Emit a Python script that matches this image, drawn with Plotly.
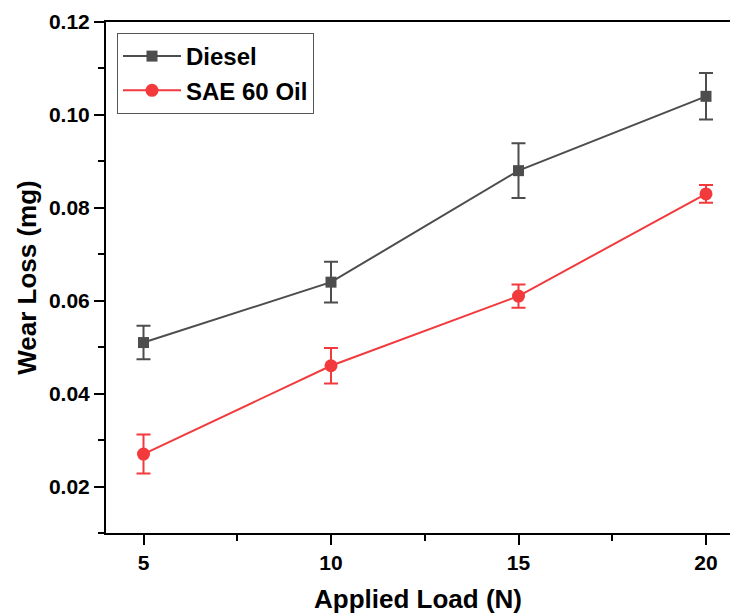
import plotly.graph_objects as go

load = [5, 10, 15, 20]
diesel = [0.051, 0.064, 0.088, 0.104]
diesel_err = [0.0036, 0.0044, 0.0059, 0.0050]
sae = [0.027, 0.046, 0.061, 0.083]
sae_err = [0.0042, 0.0038, 0.0025, 0.0019]

FONT = "Liberation Sans, Arial, sans-serif"
GRAY = "#4d4d4d"
RED = "#f23a3d"

fig = go.Figure()
fig.add_trace(go.Scatter(
    x=load, y=diesel, name="Diesel", mode="lines+markers",
    line=dict(color=GRAY, width=2),
    marker=dict(symbol="square", size=11, color=GRAY),
    error_y=dict(type="data", array=diesel_err, visible=True, color=GRAY, thickness=2, width=7),
))
fig.add_trace(go.Scatter(
    x=load, y=sae, name="SAE 60 Oil", mode="lines+markers",
    line=dict(color=RED, width=2),
    marker=dict(symbol="circle", size=13, color=RED),
    error_y=dict(type="data", array=sae_err, visible=True, color=RED, thickness=2, width=7),
))

fig.update_layout(
    width=730, height=616,
    margin=dict(l=106, r=0, t=22, b=83),
    paper_bgcolor="white", plot_bgcolor="white",
    font=dict(family=FONT, color="black"),
    showlegend=True,
    legend=dict(
        x=(117 - 106) / 624, y=1 - (33 - 22) / 511, xanchor="left", yanchor="top",
        bordercolor="#555555", borderwidth=1, bgcolor="white",
        font=dict(family=FONT, size=24, weight="bold", color="black"),
        traceorder="normal", itemwidth=58,
    ),
    xaxis=dict(
        range=[4, 4 + 624 / 37.5], tickmode="linear", tick0=0, dtick=5,
        showgrid=False, zeroline=False,
        showline=True, linecolor="black", linewidth=2, mirror=True,
        ticks="outside", ticklen=10, tickwidth=2, tickcolor="black",
        minor=dict(ticks="outside", ticklen=6, tickwidth=2, tickcolor="black", dtick=2.5, tick0=0),
        tickfont=dict(family=FONT, size=21, weight="bold", color="black"),
        title=dict(text="Applied Load (N)", font=dict(family=FONT, size=26, weight="bold", color="black"), standoff=17),
    ),
    yaxis=dict(
        range=[0.01, 0.12], tickmode="linear", tick0=0, dtick=0.02, tickformat=".2f",
        showgrid=False, zeroline=False,
        showline=True, linecolor="black", linewidth=2, mirror=False,
        ticks="outside", ticklen=10, tickwidth=2, tickcolor="black",
        minor=dict(ticks="outside", ticklen=6, tickwidth=2, tickcolor="black", dtick=0.01, tick0=0),
        tickfont=dict(family=FONT, size=21, weight="bold", color="black"),
        title=dict(text="Wear Loss (mg)", font=dict(family=FONT, size=26, weight="bold", color="black"), standoff=5),
    ),
)

fig.write_html("out.html")
